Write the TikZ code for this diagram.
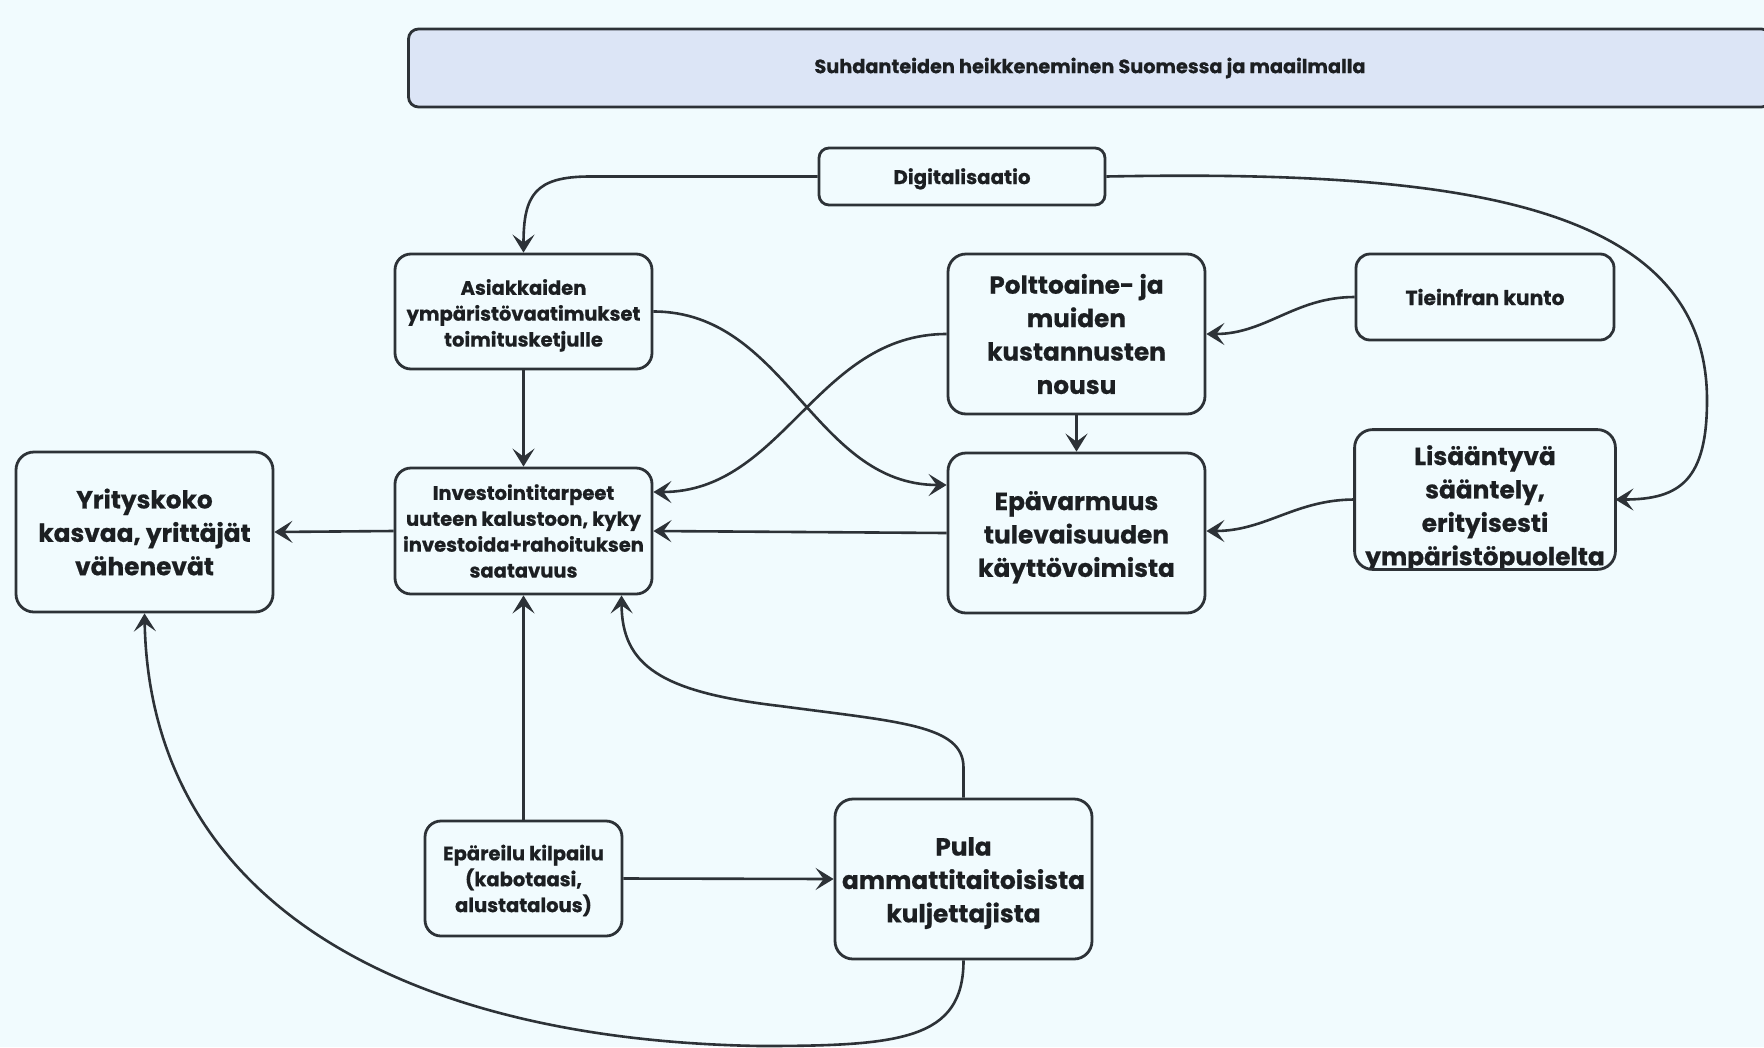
\documentclass[tikz,border=0pt]{standalone}
\usepackage{fontspec}
\setmainfont{Poppins}[BoldFeatures={FakeBold=0.6}]
\usetikzlibrary{arrows.meta,calc}
\definecolor{bg}{HTML}{F1FBFE}
\definecolor{titlefill}{HTML}{DCE5F6}
\definecolor{ink}{HTML}{2D3237}
\definecolor{txt}{HTML}{1C1F22}
\newcommand{\dn}[1]{\rule{0pt}{#1pt}}
\begin{document}
\begin{tikzpicture}[x=1pt,y=-1pt,
  box/.style={draw=ink, line width=2.8pt, rounded corners=18pt, fill=bg, align=center, text=txt, inner sep=0pt},
  med/.style={font=\fontsize{19.5}{25.9}\selectfont\bfseries},
  big/.style={font=\fontsize{24.8}{33.4}\selectfont\bfseries},
  titlefont/.style={font=\fontsize{19.3}{22}\selectfont\bfseries},
  digfont/.style={font=\fontsize{19.8}{22}\selectfont\bfseries},
  tiefont/.style={font=\fontsize{20.3}{22}\selectfont\bfseries},
  conn/.style={draw=ink, line width=2.6pt, -{Stealth[length=18pt,width=22pt,inset=8pt]}},
]
\useasboundingbox (0,0) rectangle (1764,1047);
\fill[bg] (0,0) rectangle (1764,1047);

\node[box, fill=titlefill, rounded corners=10pt, minimum width=1363pt, minimum height=78pt, titlefont] (top) at (1090,68) {Suhdanteiden heikkeneminen Suomessa ja maailmalla};
\node[box, rounded corners=10pt, minimum width=286pt, minimum height=57pt, digfont] (dig) at (962,176.5) {\dn{20.6}Digitalisaatio};
\node[box, rounded corners=16pt, minimum width=257pt, minimum height=115pt, med] (asi) at (523.5,311.5) {\dn{23.5}Asiakkaiden\\ympäristövaatimukset\\toimitusketjulle};
\node[box, minimum width=257pt, minimum height=160pt, big] (pol) at (1076.5,334) {Polttoaine- ja\\muiden\\kustannusten\\nousu};
\node[box, rounded corners=14pt, minimum width=258pt, minimum height=86pt, tiefont] (tie) at (1485,297) {Tieinfran kunto};
\node[box, minimum width=257pt, minimum height=160pt, big] (yri) at (144.5,532) {Yrityskoko\\kasvaa, yrittäjät\\vähenevät};
\node[box, rounded corners=16pt, minimum width=257pt, minimum height=126pt, med] (inv) at (523.5,531) {Investointitarpeet\\uuteen kalustoon, kyky\\investoida+rahoituksen\\saatavuus};
\node[box, minimum width=257pt, minimum height=160pt, big] (epa) at (1076.5,533) {\dn{27.5}Epävarmuus\\tulevaisuuden\\käyttövoimista};
\node[box, draw=none, minimum width=258pt, minimum height=137pt] (lis) at (1485,499.5) {};
\begin{scope}
  \clip[rounded corners=18pt] (lis.north west) rectangle (lis.south east);
  \node[big, align=center, text=txt, inner sep=0pt] (listext) at (1485,508.5) {Lisääntyvä\\sääntely,\\erityisesti\\ympäristöpuolelta};
\end{scope}
\draw[draw=ink, line width=2.8pt, rounded corners=18pt] (lis.north west) rectangle (lis.south east);
\node[box, rounded corners=16pt, minimum width=197pt, minimum height=115pt, med] (epr) at (523.5,878.5) {\dn{19.5}Epäreilu kilpailu\\(kabotaasi,\\alustatalous)};
\node[box, minimum width=257pt, minimum height=160pt, big] (pul) at (963.5,879) {\dn{26.5}Pula\\ammattitaitoisista\\kuljettajista};

% connectors
\draw[conn] (dig.west) -- (590,176.5) .. controls (535,176.5) and (523.5,195) .. (asi.north);
\draw[conn] (dig.east) .. controls (1450,170) and (1707,200) .. (1707,400) .. controls (1707,480) and (1680,499.5) .. (lis.east);
\draw[conn] (tie.west) to[out=180,in=0] (pol.east);
\draw[conn] (lis.west) to[out=180,in=0] ([yshift=2pt]epa.east);
\draw[conn] (pol.south) -- (epa.north);
\draw[conn] (pol.west) to[out=180,in=0] ([yshift=39pt]inv.east);
\draw[conn] (asi.east) to[out=0,in=180] ([yshift=48pt]epa.west);
\draw[conn] (asi.south) -- (inv.north);
\draw[conn] (epa.west) -- (inv.east);
\draw[conn] (inv.west) -- (yri.east);
\draw[conn] (epr.north) -- (inv.south);
\draw[conn] (epr.east) -- (pul.west);
\draw[conn] (pul.north) -- ++(0,-30) .. controls (963.5,725) and (900,722) .. (780,706) .. controls (660,692) and (622,665) .. ([xshift=98pt]inv.south);
\draw[conn] (pul.south) .. controls (963.5,1040) and (900,1046) .. (760,1046) .. controls (400,1040) and (150,900) .. (yri.south);
\end{tikzpicture}
\end{document}
